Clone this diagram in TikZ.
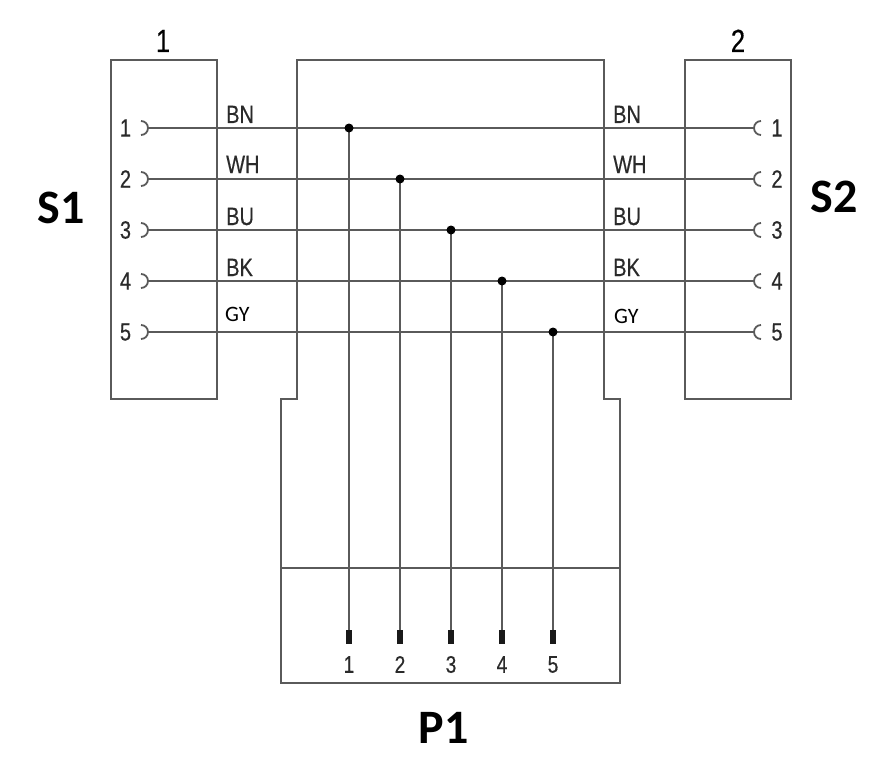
\documentclass[tikz,border=0pt]{standalone}
\usepackage{fontspec}
\newfontfamily\condfont[FakeStretch=0.8,FakeBold=0.4]{Liberation Sans}
\newfontfamily\calfont{Carlito}
\definecolor{wire}{HTML}{5A5A5A}
\definecolor{txt}{HTML}{2A2A2A}
\begin{document}
\begin{tikzpicture}[x=1pt,y=-1pt,
  box/.style={draw=wire,line width=1.7pt},
  wireline/.style={draw=wire,line width=1.9pt},
  pinarc/.style={draw=wire,line width=1.8pt},
  junction/.style={circle,fill=black,inner sep=0pt,minimum size=9pt},
  pinrect/.style={rectangle,fill=black!90,inner sep=0pt,minimum width=6pt,minimum height=14pt},
  labtxt/.style={inner sep=0pt,anchor=base west,text=txt,font=\condfont\fontsize{25}{28}\selectfont},
  gytxt/.style={inner sep=0pt,anchor=base west,text=black,font=\calfont\fontsize{22}{26}\selectfont},
  numtxt/.style={inner sep=0pt,text=txt,font=\condfont\fontsize{25}{28}\selectfont},
  pnumtxt/.style={inner sep=0pt,text=txt,font=\condfont\fontsize{24}{28}\selectfont},
  boxtxt/.style={inner sep=0pt,anchor=base,text=black,font=\condfont\fontsize{32}{36}\selectfont},
  bigtxt/.style={inner sep=0pt,text=black,font=\calfont\bfseries\fontsize{48}{52}\selectfont}]
\useasboundingbox (0,0) rectangle (879,768);

% housings
\draw[box] (111,60) rectangle (217,399);
\draw[box] (685,60) rectangle (791,399);
\draw[box] (297,399) -- (297,60) -- (604,60) -- (604,399) -- (620,399)
  -- (620,683) -- (281,683) -- (281,399) -- cycle;
\draw[box] (281,568) -- (620,568);

% box labels
\node[boxtxt] (lab1) at (163,52) {1};
\node[boxtxt] (lab2) at (738,52) {2};
\node[bigtxt] (S1) at (61,208) {S1};
\node[bigtxt] (S2) at (834,197) {S2};
\node[bigtxt] (P1) at (443.5,728) {P1};

% wires
\foreach \i/\y/\jx in {1/128/349,2/179/400,3/230/451,4/281/502,5/332/553}{
  \coordinate (L\i) at (148,\y);
  \coordinate (R\i) at (754,\y);
  \node[numtxt] (ln\i) at (125.5,\y) {\i};
  \node[numtxt] (rn\i) at (777,\y) {\i};
  \draw[pinarc] (141,\y-7) arc[start angle=-90,end angle=90,radius=7];
  \draw[pinarc] (761,\y-7) arc[start angle=270,end angle=90,radius=7];
  \draw[wireline] (L\i) -- (R\i);
  \node[pinrect] (pin\i) at (\jx,637) {};
  \node[pnumtxt] (pn\i) at (\jx,664.5) {\i};
  \coordinate (J\i) at (\jx,\y);
  \draw[wireline] (J\i) -- (pin\i.north);
  \node[junction] (dot\i) at (J\i) {};
}

% colour labels
\node[labtxt] (bnl) at (226,123) {BN};
\node[labtxt] (whl) at (226,173) {WH};
\node[labtxt] (bul) at (226,225) {BU};
\node[labtxt] (bkl) at (226,276) {BK};
\node[gytxt] (gyl) at (225,321) {GY};
\node[labtxt] (bnr) at (613,123) {BN};
\node[labtxt] (whr) at (613,173) {WH};
\node[labtxt] (bur) at (613,225) {BU};
\node[labtxt] (bkr) at (613,276) {BK};
\node[gytxt] (gyr) at (614,323) {GY};
\end{tikzpicture}
\end{document}
